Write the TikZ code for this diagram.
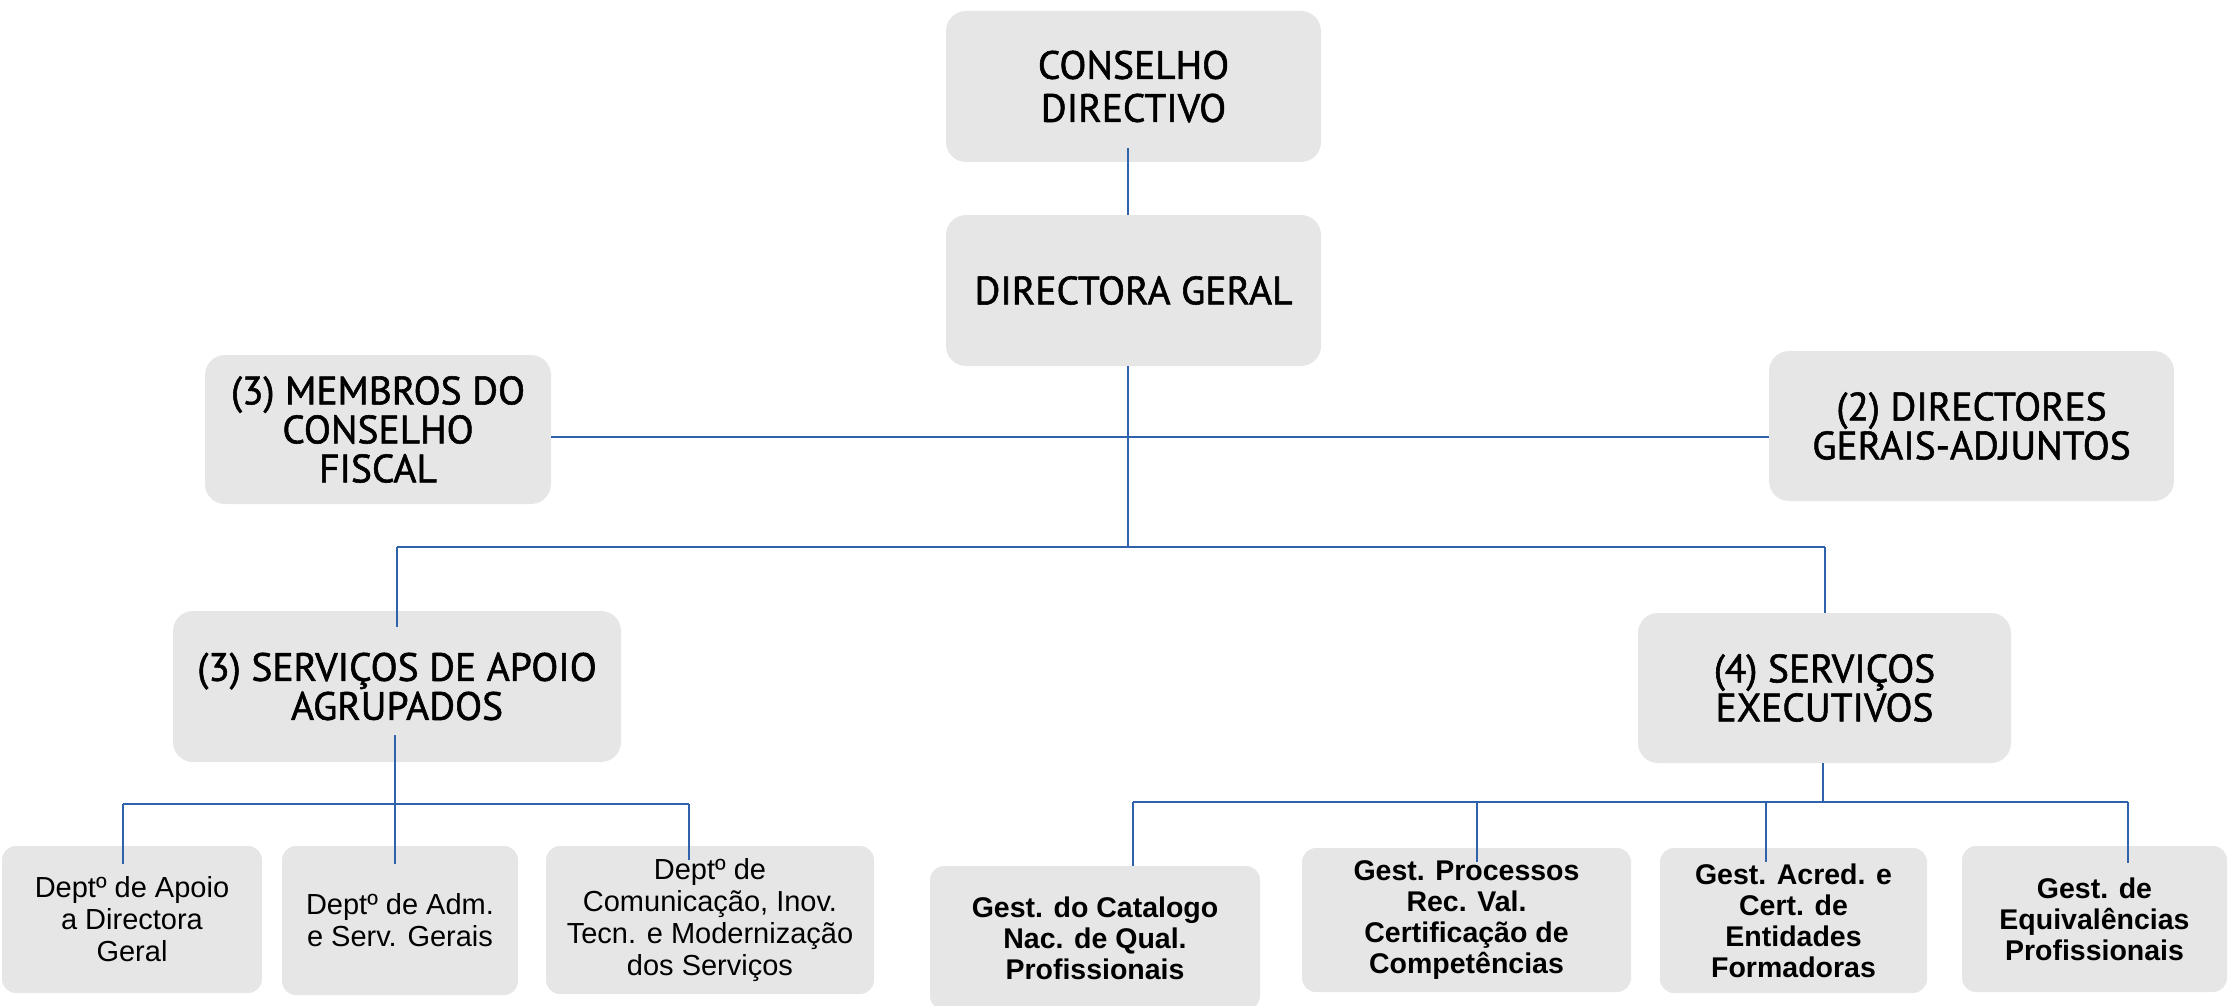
\documentclass[tikz,border=0pt]{standalone}
\usepackage{fontspec}
\setmainfont{Liberation Sans}
\newfontfamily\dinfont[FakeBold=1.4]{PT Sans}
\usetikzlibrary{calc}
\definecolor{boxgray}{HTML}{E6E6E6}
\definecolor{linkblue}{HTML}{2E62AA}
\begin{document}
\begin{tikzpicture}[x=1pt,y=-1pt,
  box/.style={fill=boxgray, align=center, inner sep=0pt, text=black},
  topbox/.style={box, rounded corners=20pt, font=\dinfont\fontsize{39.5}{39}\selectfont},
  lowbox/.style={box, rounded corners=14pt, font=\fontsize{29}{32}\selectfont},
  lowbold/.style={box, rounded corners=14pt, font=\fontsize{28.5}{31}\selectfont\bfseries},
  conn/.style={draw=linkblue, line width=1.8pt}]
\useasboundingbox (0,0) rectangle (2228,1006);

% top level
\node[topbox, minimum width=375pt, minimum height=151pt, font=\dinfont\fontsize{39.5}{43}\selectfont] (cd) at (1133.5,86.5) {CONSELHO\\DIRECTIVO};
\node[topbox, minimum width=375pt, minimum height=151pt] (dg) at (1133.5,290.5) {DIRECTORA GERAL};
\node[topbox, minimum width=346pt, minimum height=149pt] (mcf) at (378,429.5) {(3) MEMBROS DO\\CONSELHO\\FISCAL};
\node[topbox, minimum width=405pt, minimum height=150pt] (dga) at (1971.5,426) {(2) DIRECTORES\\GERAIS-ADJUNTOS};
\node[topbox, minimum width=448pt, minimum height=151pt] (saa) at (397,686.5) {(3) SERVIÇOS DE APOIO\\AGRUPADOS};
\node[topbox, minimum width=373pt, minimum height=150pt] (se) at (1824.5,688) {(4) SERVIÇOS\\EXECUTIVOS};

% lower level
\node[lowbox, minimum width=260pt, minimum height=147pt] (d1) at (132,919.5) {Deptº de Apoio\\a Directora\\Geral};
\node[lowbox, minimum width=236pt, minimum height=149pt] (d2) at (400,920.5) {Deptº de Adm.\\e Serv. Gerais};
\node[lowbox, minimum width=328pt, minimum height=148pt] (d3) at (710,920) {Deptº de\\Comunicação, Inov.\\Tecn. e Modernização\\dos Serviços};
\node[lowbold, minimum width=330pt, minimum height=144pt] (g1) at (1095,938) {Gest. do Catalogo\\Nac. de Qual.\\Profissionais};
\node[lowbold, minimum width=329pt, minimum height=144pt] (g2) at (1466.5,920) {Gest. Processos\\Rec. Val.\\Certificação de\\Competências};
\node[lowbold, minimum width=267pt, minimum height=145pt] (g3) at (1793.5,920.5) {Gest. Acred. e\\Cert. de\\Entidades\\Formadoras};
\node[lowbold, minimum width=265pt, minimum height=146pt] (g4) at (2094.5,919) {Gest. de\\Equivalências\\Profissionais};

% bus coordinates
\coordinate (jx) at (1128,547);
\coordinate (hb) at (1128,437);
\coordinate (bl) at (397,547);
\coordinate (br) at (1825,547);
\coordinate (sm) at (395,804);
\coordinate (sl) at (123,804);
\coordinate (sr) at (689,804);
\coordinate (em) at (1823,802);
\coordinate (el) at (1133,802);
\coordinate (e2) at (1477,802);
\coordinate (e3) at (1766,802);
\coordinate (er) at (2128,802);

% connectors
\draw[conn] ([yshift=14pt]cd.south -| jx) -- (dg.north -| jx);
\draw[conn] (dg.south -| jx) -- (jx);
\draw[conn] (mcf.east |- hb) -- (dga.west |- hb);
\draw[conn] (bl) -- (br);
\draw[conn] (bl) -- ([yshift=-16pt]saa.north -| bl);
\draw[conn] (br) -- (se.north -| br);

\draw[conn] ([yshift=27pt]saa.south -| sm) -- (sm);
\draw[conn] (sl) -- (sr);
\draw[conn] (sl) -- ([yshift=-18pt]d1.north -| sl);
\draw[conn] (sm) -- ([yshift=-18pt]d2.north -| sm);
\draw[conn] (sr) -- ([yshift=-14pt]d3.north -| sr);

\draw[conn] (se.south -| em) -- (em);
\draw[conn] (el) -- (er);
\draw[conn] (el) -- (g1.north -| el);
\draw[conn] (e2) -- ([yshift=-14pt]g2.north -| e2);
\draw[conn] (e3) -- ([yshift=-14pt]g3.north -| e3);
\draw[conn] (er) -- ([yshift=-17pt]g4.north -| er);
\end{tikzpicture}
\end{document}
